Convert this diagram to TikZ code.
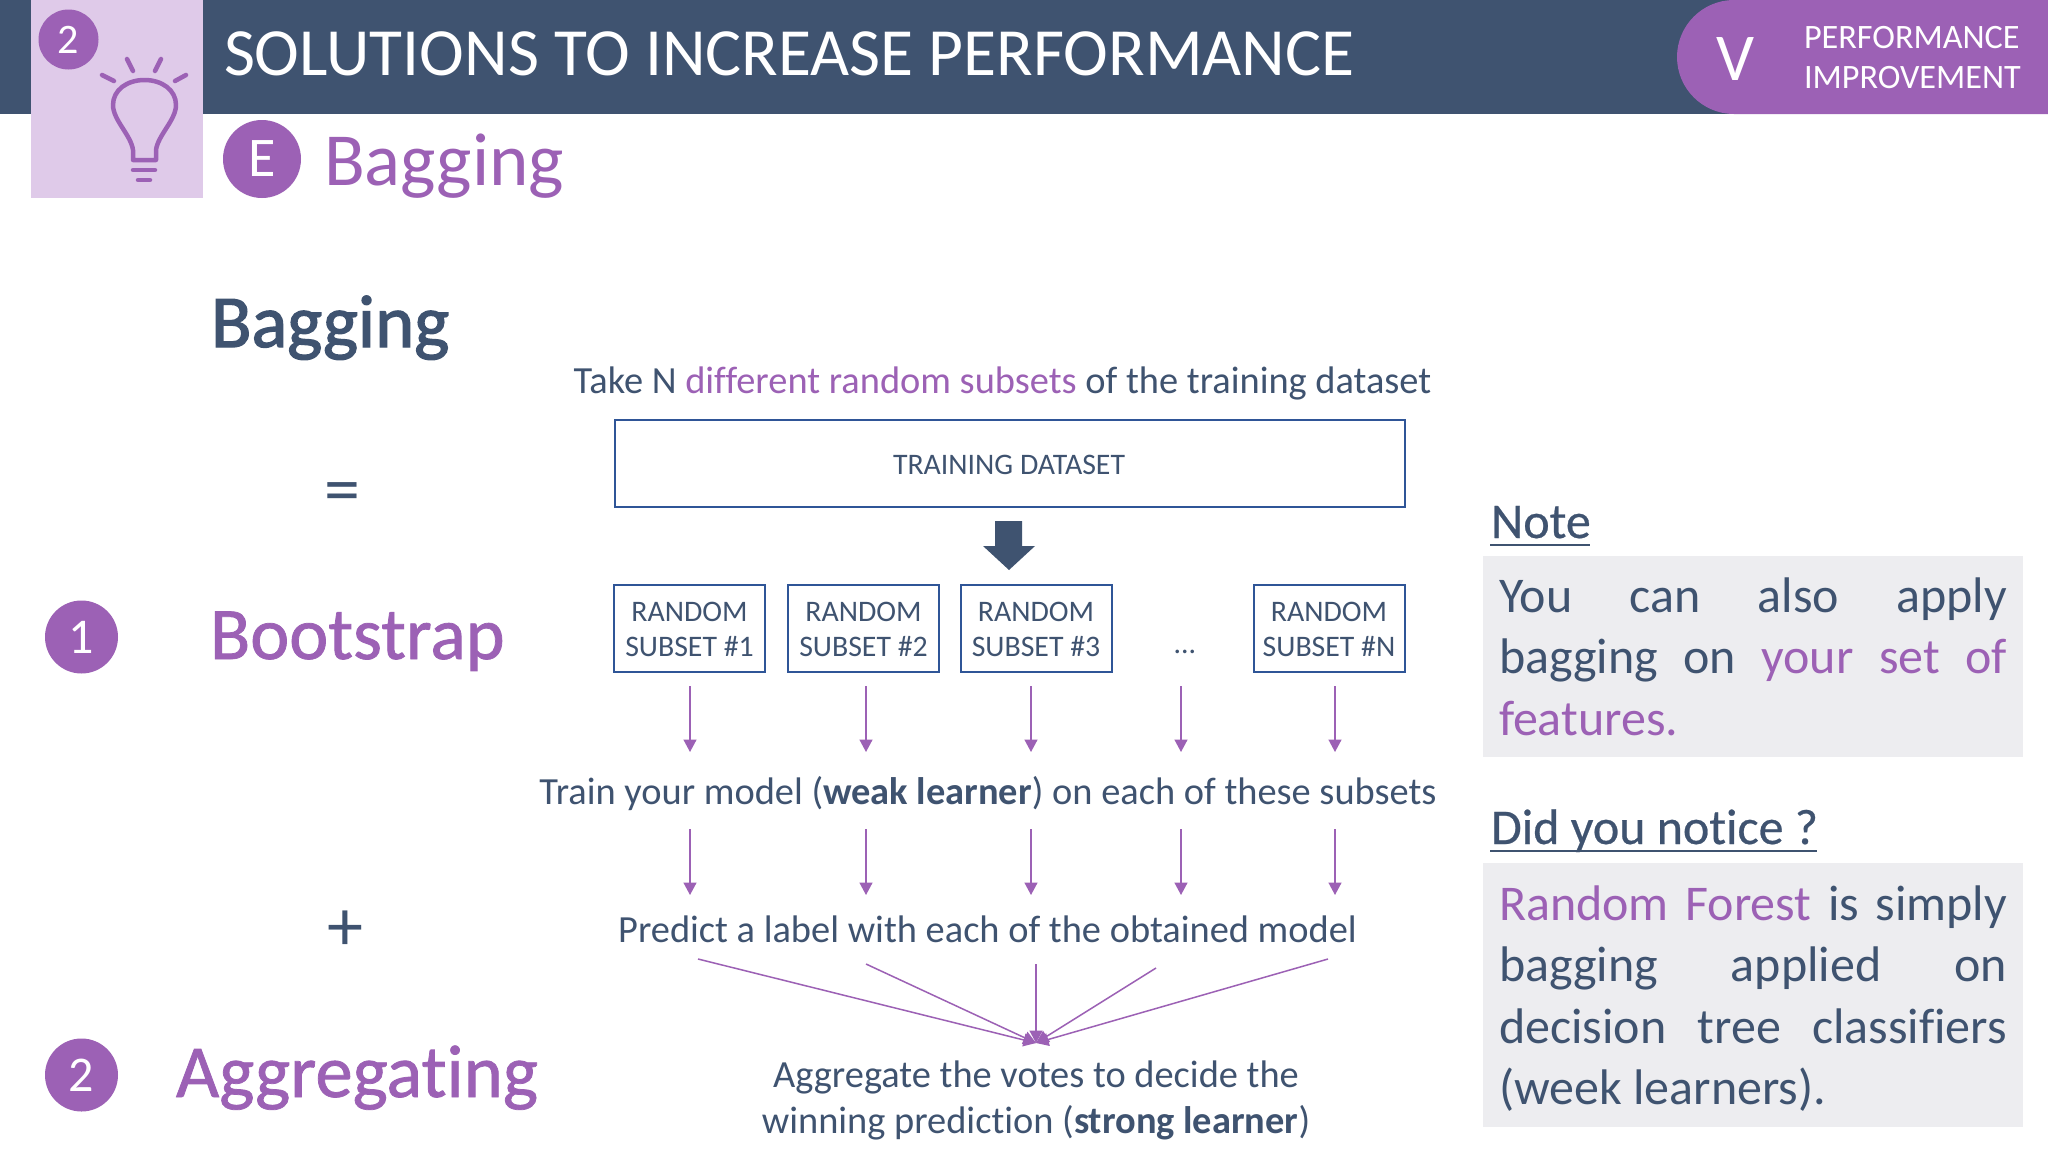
\documentclass[tikz,border=0pt]{standalone}
\usepackage{fontspec}
\setmainfont{Carlito}[Ligatures=CommonOff]
\newfontfamily\heavyA{Carlito}[Ligatures=CommonOff,FakeBold=1.8]
\newfontfamily\heavyB{Carlito}[Ligatures=CommonOff,FakeBold=1.0]
\newfontfamily\heavyC{Carlito}[Ligatures=CommonOff,FakeBold=0.5]
\usetikzlibrary{arrows.meta}
\definecolor{navy}{HTML}{3F5370}
\definecolor{purp}{HTML}{9C61B5}
\definecolor{lilac}{HTML}{DFCAE9}
\definecolor{panel}{HTML}{EDEDF0}
\definecolor{boxline}{HTML}{2F5597}
\newcommand{\fs}[1]{\fontsize{#1}{#1}\selectfont}
\newcommand{\pur}[1]{\textcolor{purp}{#1}}
\tikzset{
  x=1pt,y=-1pt,
  txt/.style={inner sep=0pt,outer sep=0pt,anchor=base west,text=navy},
  ctxt/.style={inner sep=0pt,outer sep=0pt,anchor=base,text=navy},
  badge/.style={circle,fill=purp,text=white,minimum size=#1,inner sep=0pt},
  rbox/.style={draw=boxline,line width=2pt,fill=white,inner sep=0pt,text=navy,align=center},
  thinarrow/.style={draw=purp,line width=1.5pt,-{Triangle[length=12.5pt,width=13pt]}},
  bulb/.style={draw=purp,line width=4.5pt,line cap=round,line join=round},
  under/.style={draw=navy,line width=2pt},
}
\begin{document}
\begin{tikzpicture}
\useasboundingbox (0,0) rectangle (2048,1152);
\fill[white] (0,0) rectangle (2048,1152);
% header
\fill[navy] (0,0) rectangle (2048,114);
\fill[purp] (2048,0) -- (1734,0) arc[start angle=270,end angle=90,radius=57] -- (2048,114) -- cycle;
\fill[lilac] (30.5,0) rectangle (203,198);
\node[badge=60pt] (numtwo) at (68.5,39.5) {\fs{42}2};
% bulb icon
\draw[bulb] (133,160) -- (133,150) .. controls (131,135) and (113,120) .. (113,105)
  .. controls (113,90) and (127,80) .. (144.5,80)
  .. controls (162,80) and (176,90) .. (176,105)
  .. controls (176,120) and (158,135) .. (156,150) -- (156,160) -- cycle;
\draw[bulb] (133,170) -- (155,170);
\draw[bulb] (138,180) -- (150,180);
\draw[bulb] (127,59) -- (133,71);
\draw[bulb] (161,59) -- (155,71);
\draw[bulb] (102,75) -- (114,81);
\draw[bulb] (186,75) -- (175,81);
\node[txt,text=white] (title) at (224,75) {\fs{67.5}SOLUTIONS TO INCREASE PERFORMANCE};
\node[ctxt,text=white] (vee) at (1735,80) {\fs{67}V};
\node[txt,text=white] (perf) at (1804,48) {\fs{34.2}PERFORMANCE};
\node[txt,text=white] (impr) at (1804,88) {\fs{34.2}IMPROVEMENT};
\node[badge=78pt] (ebadge) at (262,159) {\fs{56}E};
\node[txt,text=purp] (subtitle) at (324,185) {\fs{75}Bagging};
% left column
\node[txt] (bag) at (211,347) {\heavyA\fs{74.5}Bagging};
\node[ctxt] (eq) at (342.5,513) {\fs{72}=};
\node[badge=73pt] (bone) at (81.5,637) {\fs{50}1};
\node[txt,text=purp] (boot) at (210,659) {\heavyB\fs{74}Bootstrap};
\node[ctxt] (plus) at (345,950) {\fs{72}+};
\node[badge=73pt] (btwo) at (81.5,1075) {\fs{50}2};
\node[txt,text=purp] (aggr) at (176,1097) {\heavyB\fs{74.7}Aggregating};
% centre
\node[ctxt] (take) at (1002.5,393.5) {\fs{38.4}Take N \pur{different random subsets} of the training dataset};
\node[rbox,minimum width=790pt,minimum height=87pt] (train) at (1009.5,463.5) {};
\node[ctxt] at (1009,474) (traintxt) {\fs{29.8}TRAINING DATASET};
\fill[navy] (995,521) -- (1022,521) -- (1022,546) -- (1035,546) -- (1009,570) -- (983,546) -- (995,546) -- cycle;
\foreach \nm/\cx/\lab in {s1/689.5/1,s2/863.5/2,s3/1036/3,sn/1329/N}{
  \node[rbox,minimum width=151pt,minimum height=87pt] (\nm) at (\cx,628) {};
  \node[ctxt] (\nm a) at (\cx,621) {\fs{29.8}RANDOM};
  \node[ctxt] (\nm b) at (\cx,656) {\fs{29.8}SUBSET \#\lab};
}
\node[ctxt] (dots) at (1185,653) {\fs{29.8}...};
\node[ctxt] (trainl) at (988,804.5) {\fs{38.4}Train your model (\textbf{weak learner}) on each of these subsets};
\node[ctxt] (pred) at (987.5,942.5) {\fs{38.4}Predict a label with each of the obtained model};
\node[ctxt] (agg1) at (1036,1087) {\fs{38.4}Aggregate the votes to decide the};
\node[ctxt] (agg2) at (1036,1133) {\fs{38.4}winning prediction (\textbf{strong learner})};
\foreach \i/\ax in {1/690,2/866,3/1031,4/1181,5/1335}{
  \coordinate (a\i) at (\ax,686); \coordinate (b\i) at (\ax,752);
  \coordinate (c\i) at (\ax,829); \coordinate (d\i) at (\ax,895);
  \draw[thinarrow] (a\i) -- (b\i);
  \draw[thinarrow] (c\i) -- (d\i);
}
\coordinate (vote) at (1036,1043);
\coordinate (f1) at (698,959);
\coordinate (f2) at (866,964);
\coordinate (f3) at (1036,964);
\coordinate (f4) at (1156,968);
\coordinate (f5) at (1328,959);
\foreach \i in {1,...,5}{\draw[thinarrow] (f\i) -- (vote);}
% right column
\node[txt] (note) at (1491,538) {\heavyC\fs{50}Note};
\draw[under] (1490,545) -- (1590,545);
\fill[panel] (1483,556) rectangle (2023,757);
\node[txt] (n1) at (1499,612) {\makebox[508pt][s]{\fs{50}You can also apply}};
\node[txt] (n2) at (1499,673.5) {\makebox[508pt][s]{\fs{50}bagging on \pur{your set of}}};
\node[txt] (n3) at (1499,735) {\fs{50}\pur{features.}};
\node[txt] (did) at (1491,844) {\heavyC\fs{50}Did you notice ?};
\draw[under] (1490,851) -- (1817,851);
\fill[panel] (1483,863) rectangle (2023,1127);
\node[txt] (d1) at (1499,920.5) {\makebox[508pt][s]{\fs{50}\pur{Random Forest} is simply}};
\node[txt] (d2) at (1499,981.5) {\makebox[508pt][s]{\fs{50}bagging applied on}};
\node[txt] (d3) at (1499,1043) {\makebox[508pt][s]{\fs{50}decision tree classifiers}};
\node[txt] (d4) at (1499,1104) {\fs{50}(week learners).};
\end{tikzpicture}
\end{document}
